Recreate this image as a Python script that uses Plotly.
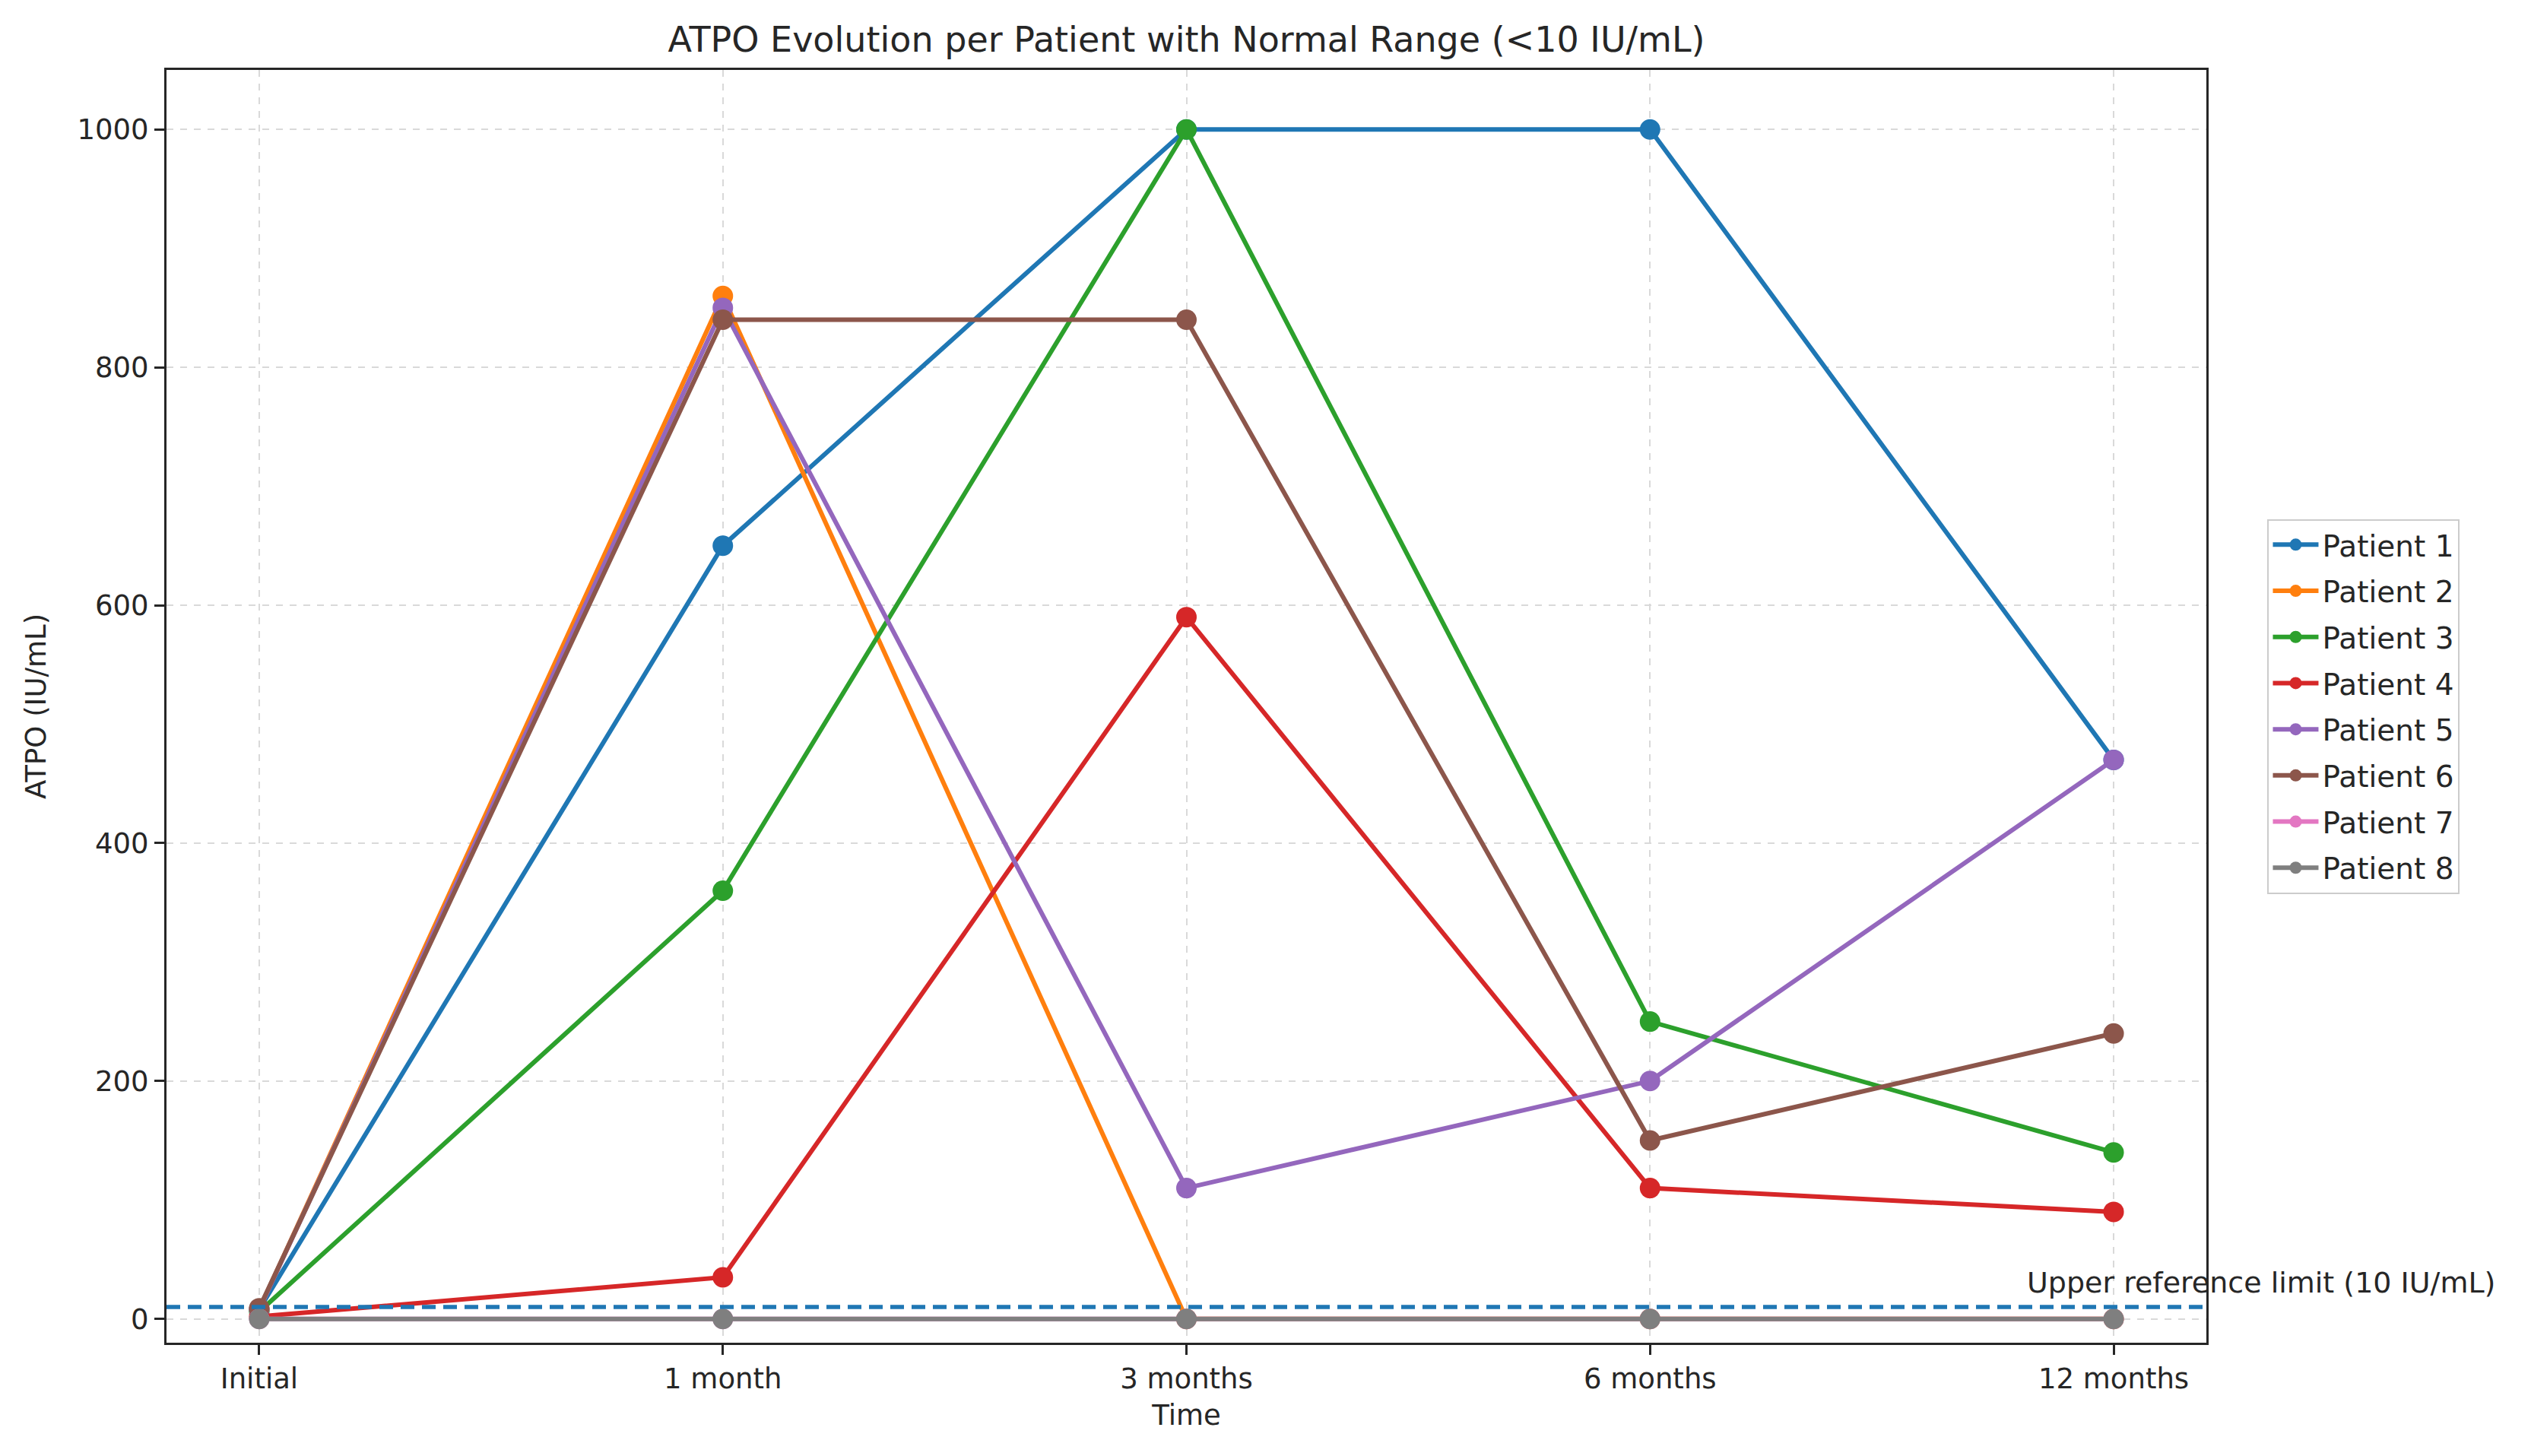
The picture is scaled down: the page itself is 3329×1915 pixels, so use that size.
import plotly.graph_objects as go

time_labels = ["Initial", "1 month", "3 months", "6 months", "12 months"]
patients = ["Patient 1", "Patient 2", "Patient 3", "Patient 4",
            "Patient 5", "Patient 6", "Patient 7", "Patient 8"]
p1 = [8, 650, 1000, 1000, 470]
p2 = [8, 860, 0, 0, 0]
p3 = [6, 360, 1000, 250, 140]
p4 = [2, 35, 590, 110, 90]
p5 = [8, 850, 110, 200, 470]
p6 = [9, 840, 840, 150, 240]
p7 = [0, 0, 0, 0, 0]
p8 = [0, 0, 0, 0, 0]
series = [p1, p2, p3, p4, p5, p6, p7, p8]
colors = ["#1f77b4", "#ff7f0e", "#2ca02c", "#d62728",
          "#9467bd", "#8c564b", "#e377c2", "#7f7f7f"]
ref_limit = 10
ref_label = "Upper reference limit (10 IU/mL)"

FONT = "DejaVu Sans"
x_idx = list(range(len(time_labels)))

L, R, T, B = 211, 435, 84, 157
W, H = 3329, 1915

fig = go.Figure()

fig.add_shape(type="line", xref="paper", yref="y", x0=0, x1=1,
              y0=ref_limit, y1=ref_limit,
              line=dict(color="#1f77b4", width=5.5, dash="18px,10px"), layer="above")

for name, vals, c in zip(patients, series, colors):
    fig.add_trace(go.Scatter(
        x=x_idx, y=vals, name=name, mode="lines+markers",
        legendgroup=name,
        line=dict(color=c, width=6),
        marker=dict(color=c, size=27),
        cliponaxis=False,
    ))

fig.add_annotation(x=3.81, y=15, xref="x", yref="y", text=ref_label,
                   showarrow=False, xanchor="left", yanchor="bottom",
                   font=dict(family=FONT, size=38, color="#262626"))

fig.update_layout(
    width=W, height=H,
    margin=dict(l=L, r=R, t=T, b=B),
    paper_bgcolor="white", plot_bgcolor="white",
    font=dict(family=FONT, size=36, color="#262626"),
    title=dict(text="ATPO Evolution per Patient with Normal Range (<10 IU/mL)",
               x=(L + (W - L - R) / 2) / W, xanchor="center",
               y=1 - 44 / H, yanchor="middle",
               font=dict(family=FONT, size=46, color="#262626")),
    showlegend=True,
    legend=dict(x=1.03, y=0.5, xanchor="left", yanchor="middle",
                bordercolor="#cccccc", borderwidth=2, bgcolor="white",
                font=dict(family=FONT, size=39, color="#262626"),
                itemwidth=60, tracegroupgap=7),
)

fig.update_xaxes(
    range=[-0.2, 4.2], tickmode="array", tickvals=x_idx, ticktext=time_labels,
    showline=True, linecolor="#262626", linewidth=3, mirror=True,
    ticks="outside", ticklen=13, tickwidth=3, tickcolor="#262626",
    showgrid=True, gridcolor="#d9d9d9", gridwidth=1.8, griddash="dash",
    zeroline=False, tickfont=dict(size=37),
    title=dict(text="Time", font=dict(family=FONT, size=37), standoff=14),
)
fig.update_yaxes(
    range=[-20, 1050], tickmode="array", tickvals=[0, 200, 400, 600, 800, 1000],
    showline=True, linecolor="#262626", linewidth=3, mirror=True,
    ticks="outside", ticklen=13, tickwidth=3, tickcolor="#262626",
    showgrid=True, gridcolor="#d9d9d9", gridwidth=1.8, griddash="dash",
    zeroline=False, tickfont=dict(size=37),
    title=dict(text="ATPO (IU/mL)", font=dict(family=FONT, size=37), standoff=30),
)

fig.write_html("out.html")
